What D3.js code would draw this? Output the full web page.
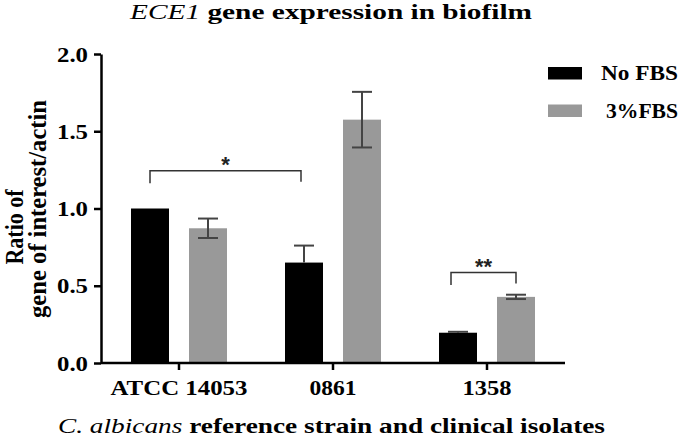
<!DOCTYPE html>
<html>
<head>
<meta charset="utf-8">
<script src="https://cdn.jsdelivr.net/npm/d3@7"></script>
<style>
  html, body { margin: 0; padding: 0; background: #fff; }
  svg { display: block; }
</style>
</head>
<body>
<svg id="chart" width="685" height="439"></svg>
<script>
// ---- data ----
const categories = ["ATCC 14053", "0861", "1358"];
const seriesNames = ["No FBS", "3%FBS"];
const noFBS = [1.0, 0.65, 0.196];
const noFBSErr = [0, 0.11, 0.006];
const fbs3 = [0.872, 1.575, 0.428];
const fbs3Err = [0.063, 0.18, 0.014];
const yTicks = [0.0, 0.5, 1.0, 1.5, 2.0];
const seriesColors = ["#000000", "#999999"];
const significance = [
  { label: "*", from: [0, 0], to: [1, 0], y: 1.245 },
  { label: "**", from: [2, 0], to: [2, 1], y: 0.585 }
];

(function () {
const FONT = '"Liberation Serif", "Times New Roman", Times, serif';
const svg = d3.select("#chart");
const mLeft = 101, mRight = 565, mTop = 54, mBottom = 363;

const x = d3.scaleBand().domain(categories).range([mLeft + 1, mRight - 1]);
const xi = d3.scaleBand().domain([0, 1]).range([-48, 48]).paddingInner(20 / 58);
const y = d3.scaleLinear().domain([0, 2]).range([mBottom, mTop]);

const series = [
  { name: seriesNames[0], values: noFBS, err: noFBSErr, color: seriesColors[0], hiddenLower: true },
  { name: seriesNames[1], values: fbs3, err: fbs3Err, color: seriesColors[1], hiddenLower: false }
];

const cx = (ci, si) => x(categories[ci]) + x.bandwidth() / 2 + xi(si) + xi.bandwidth() / 2;

// bars
series.forEach((s, si) => {
  svg.append("g").selectAll("rect").data(s.values).join("rect")
    .attr("x", (d, i) => x(categories[i]) + x.bandwidth() / 2 + xi(si))
    .attr("width", xi.bandwidth())
    .attr("y", d => y(d))
    .attr("height", d => y(0) - y(d))
    .attr("fill", s.color);
});

// error bars (lower whisker of black bars is hidden inside the bar)
series.forEach((s, si) => {
  const g = svg.append("g").attr("stroke", "#444").attr("stroke-width", 2).attr("fill", "none");
  s.values.forEach((v, i) => {
    const e = s.err[i];
    if (!e) return;
    const c = cx(i, si);
    const lo = s.hiddenLower ? v : v - e;
    g.append("line").attr("x1", c).attr("x2", c).attr("y1", y(v + e)).attr("y2", y(lo));
    g.append("line").attr("x1", c - 10).attr("x2", c + 10).attr("y1", y(v + e)).attr("y2", y(v + e));
    if (!s.hiddenLower)
      g.append("line").attr("x1", c - 10).attr("x2", c + 10).attr("y1", y(v - e)).attr("y2", y(v - e));
  });
});

// significance brackets
significance.forEach((sg, k) => {
  const x1 = cx(sg.from[0], sg.from[1]) - (k === 1 ? 7 : 0);
  const x2 = cx(sg.to[0], sg.to[1]) - (k === 0 ? 3 : 0);
  const yy = y(sg.y);
  svg.append("path")
    .attr("d", `M${x1},${yy + 12.5}V${yy}H${x2}V${yy + 11}`)
    .attr("fill", "none").attr("stroke", "#333").attr("stroke-width", 1.5);
  svg.append("text").attr("x", (x1 + x2) / 2).attr("y", yy + 1)
    .attr("text-anchor", "middle").attr("font-family", "Liberation Sans, Arial, sans-serif")
    .attr("font-weight", "bold").attr("font-size", 22).attr("fill", "#222").text(sg.label);
});

// y axis
const yAxis = svg.append("g").attr("transform", `translate(${mLeft},0)`)
  .call(d3.axisLeft(y).tickValues(yTicks).tickFormat(d3.format(".1f")).tickSize(7).tickSizeOuter(0));
yAxis.select(".domain").attr("stroke", "#000").attr("stroke-width", 2.5);
yAxis.selectAll(".tick line").attr("stroke", "#000").attr("stroke-width", 2.5);
yAxis.selectAll(".tick text").attr("font-size", 21).attr("x", -13).attr("dy", "0.34em")
  .attr("font-family", FONT).attr("font-weight", "bold").attr("fill", "#000")
  .attr("textLength", 31).attr("lengthAdjust", "spacingAndGlyphs");

// x axis
const xAxis = svg.append("g").attr("transform", `translate(0,${mBottom})`)
  .call(d3.axisBottom(x).tickSize(7).tickSizeOuter(0));
xAxis.select(".domain").attr("d", `M${mLeft},0H${mRight}`).attr("stroke", "#000").attr("stroke-width", 2.5);
xAxis.selectAll(".tick line").attr("stroke", "#000").attr("stroke-width", 2.5);
const xLabelLen = { "ATCC 14053": 137, "0861": 47, "1358": 49 };
xAxis.selectAll(".tick text").attr("font-size", 21).attr("y", 17).attr("dy", "0.71em")
  .attr("font-family", FONT).attr("font-weight", "bold").attr("fill", "#000")
  .attr("textLength", d => xLabelLen[d]).attr("lengthAdjust", "spacingAndGlyphs");

// title
const title = svg.append("text").attr("x", 331).attr("y", 19).attr("text-anchor", "middle")
  .attr("font-family", FONT).attr("font-weight", "bold")
  .attr("font-size", 21).attr("textLength", 402).attr("lengthAdjust", "spacingAndGlyphs");
title.append("tspan").attr("font-style", "italic").attr("font-weight", "normal").text("ECE1");
title.append("tspan").text(" gene expression in biofilm");

// x axis title
const xt = svg.append("text").attr("x", 331.5).attr("y", 433).attr("text-anchor", "middle")
  .attr("font-family", FONT).attr("font-weight", "bold")
  .attr("font-size", 22).attr("textLength", 547).attr("lengthAdjust", "spacingAndGlyphs");
xt.append("tspan").attr("font-style", "italic").attr("font-weight", "normal").text("C. albicans");
xt.append("tspan").text(" reference strain and clinical isolates");

// y axis title (two lines)
svg.append("text").attr("transform", "translate(23,227) scale(1.12,1) rotate(-90)").attr("text-anchor", "middle")
  .attr("font-family", FONT).attr("font-weight", "bold")
  .attr("font-size", 22).text("Ratio of");
svg.append("text").attr("transform", "translate(46,209) scale(1.12,1) rotate(-90)").attr("text-anchor", "middle")
  .attr("font-family", FONT).attr("font-weight", "bold").attr("font-size", 22)
  .attr("textLength", 218).attr("lengthAdjust", "spacingAndGlyphs").text("gene of interest/actin");

// legend
const legend = svg.append("g");
series.forEach((s, si) => {
  const ly = 67 + si * 37.5;
  legend.append("rect").attr("x", 548).attr("y", ly).attr("width", 34).attr("height", 12.5).attr("fill", s.color);
  legend.append("text").attr("x", si === 0 ? 601 : 606).attr("y", ly + 13)
    .attr("font-family", FONT).attr("font-weight", "bold")
    .attr("font-size", 20).attr("textLength", si === 0 ? 77 : 72).attr("lengthAdjust", "spacingAndGlyphs")
    .text(s.name);
});
})();
</script>
</body>
</html>
